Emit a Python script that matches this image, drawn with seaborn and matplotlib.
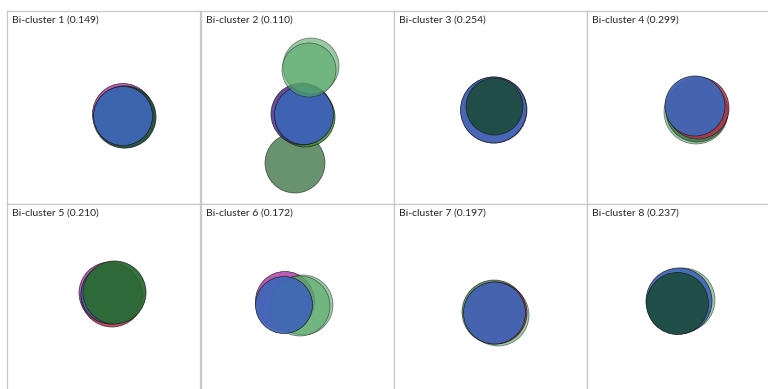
import matplotlib
matplotlib.use("Agg")
import matplotlib.pyplot as plt
from matplotlib.patches import Circle
import pandas as pd
import seaborn as sns

# Bi-cluster ids and their scores shown in the panel titles
clusters = [1, 2, 3, 4, 5, 6, 7, 8]
scores = [0.149, 0.110, 0.254, 0.299, 0.210, 0.172, 0.197, 0.237]

# One circle per member set; listed in drawing order (last is on top).
circle_cluster = [1, 1, 1, 1,
                  2, 2, 2, 2, 2, 2,
                  3, 3, 3,
                  4, 4, 4, 4,
                  5, 5, 5, 5,
                  6, 6, 6, 6,
                  7, 7, 7, 7,
                  8, 8, 8]
circle_series = ["magenta", "lightgreen", "teal", "blue",
                 "darkgreen", "olive", "purple", "blue", "lightgreen", "lightgreen",
                 "magenta", "blue", "teal",
                 "lightgreen", "darkgreen", "red", "blue",
                 "magenta", "red", "blue", "green",
                 "magenta", "lightgreen", "lightgreen", "blue",
                 "lightgreen", "darkgreen", "red", "blue",
                 "lightgreen", "blue", "teal"]
circle_x = [116, 117, 118, 116,
            94, 104, 101, 103, 110, 108,
            100, 99.5, 100.5,
            109, 110, 111, 108,
            103, 105, 104, 107.5,
            84, 102, 99, 83,
            104, 100, 102, 100.5,
            96, 92, 90.5]
circle_y = [103, 106, 106, 105,
            152, 106, 103, 104, 55, 59,
            99, 99, 95.5,
            101, 100, 97, 95,
            89, 92, 90, 88.5,
            97, 101, 102, 101,
            111, 108, 109, 109,
            96, 97, 99.5]
circle_r = [30.5, 31, 31, 29.5,
            30, 30, 31, 29.5, 28, 27,
            33, 33, 28.5,
            32, 31, 31, 30,
            31, 31, 30, 31.5,
            29.5, 30, 30, 28.5,
            31, 32, 31, 31,
            32, 33, 31]

palette = {
    "blue": ("#3F67B8", 0.93),
    "darkgreen": ("#2F6A36", 0.72),
    "green": ("#2D6A33", 0.95),
    "lightgreen": ("#57A868", 0.6),
    "magenta": ("#B23FA3", 0.85),
    "red": ("#B6304C", 0.85),
    "teal": ("#1C4B3C", 0.9),
    "olive": ("#3E8C28", 0.85),
    "purple": ("#4A2D8C", 0.85),
}

df = pd.DataFrame({
    "cluster": circle_cluster,
    "series": circle_series,
    "x": circle_x,
    "y": circle_y,
    "r": circle_r,
})

sns.set_style("white")
plt.rcParams["font.family"] = ["Lato", "DejaVu Sans"]

PANEL = 193.0
col_left = [7, 201, 394, 587]
row_top = [11, 204]
W, H = 768, 389


def draw_circles(data, **kws):
    ax = plt.gca()
    for _, row in data.iterrows():
        face, alpha = palette[row["series"]]
        ax.add_patch(Circle((row["x"], row["y"]), row["r"],
                            facecolor=face, alpha=alpha,
                            edgecolor="#1a1a1a", linewidth=0.5, zorder=2))


g = sns.FacetGrid(df, col="cluster", col_order=clusters, col_wrap=4,
                  height=1.93, aspect=1, sharex=False, sharey=False)
g.map_dataframe(draw_circles)
g.figure.set_size_inches(W / 100, H / 100)

for i, (ax, cid, score) in enumerate(zip(g.axes.flat, clusters, scores)):
    r, c = divmod(i, 4)
    left = col_left[c] / W
    bottom = 1 - (row_top[r] + PANEL) / H
    ax.set_position([left, bottom, PANEL / W, PANEL / H])
    ax.set_xlim(0, PANEL)
    ax.set_ylim(PANEL, 0)
    ax.set_aspect("auto")
    ax.set_xticks([])
    ax.set_yticks([])
    ax.set_xlabel("")
    ax.set_ylabel("")
    ax.set_title("")
    for s in ax.spines.values():
        s.set_visible(True)
        s.set_color("#C8C8C8")
        s.set_linewidth(0.9)
    ax.text(5, 9, f"Bi-cluster {cid} ({score:.3f})", ha="left", va="center",
            fontsize=7.5, color="#262626")

g.figure.savefig("out.png", dpi=100, facecolor="white")
